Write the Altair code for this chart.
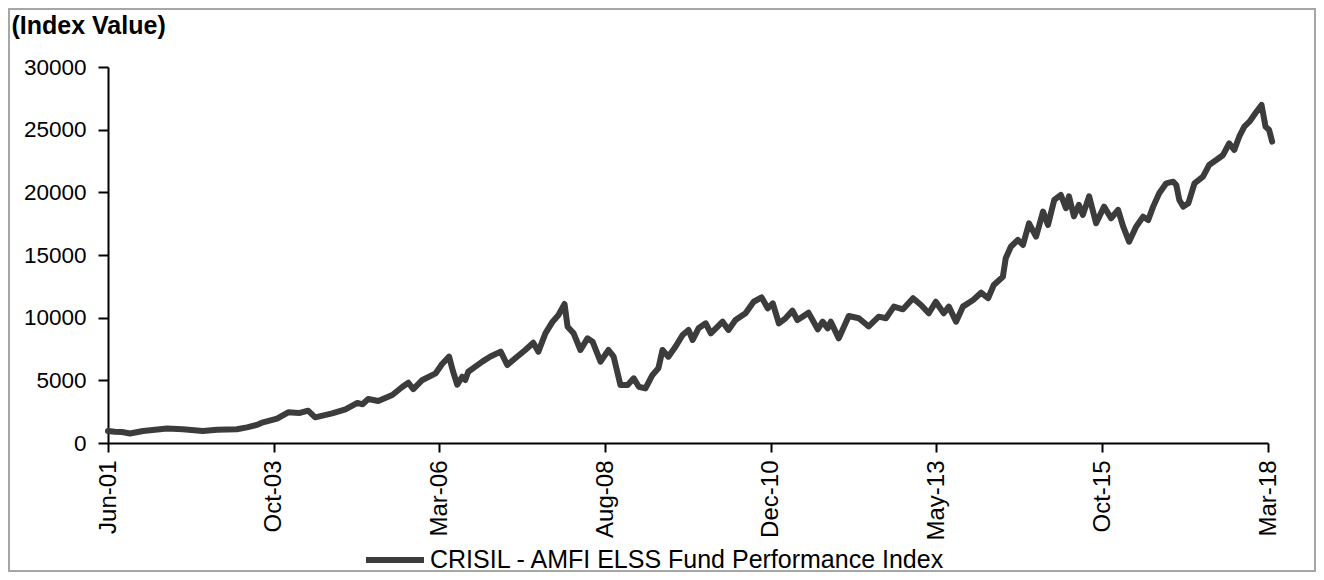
import altair as alt
import pandas as pd

# ---- data ----
dates = [
    "2001-06-01", "2001-07-07", "2001-08-14", "2001-09-25", "2001-12-03", "2002-03-02",
    "2002-04-08", "2002-07-01", "2002-10-15", "2002-12-28", "2003-04-12", "2003-06-04",
    "2003-07-26", "2003-08-28", "2003-11-10", "2004-01-08", "2004-02-14", "2004-03-10",
    "2004-04-22", "2004-05-29", "2004-08-27", "2004-11-05", "2005-01-07", "2005-02-03",
    "2005-03-05", "2005-04-27", "2005-07-10", "2005-09-02", "2005-10-03", "2005-10-29",
    "2005-12-16", "2006-02-24", "2006-03-30", "2006-05-06", "2006-05-27", "2006-06-18",
    "2006-07-14", "2006-07-30", "2006-08-15", "2006-10-28", "2006-12-10", "2007-02-02",
    "2007-03-09", "2007-04-20", "2007-06-12", "2007-07-24", "2007-08-20", "2007-09-26",
    "2007-11-03", "2007-12-04", "2008-01-05", "2008-01-21", "2008-02-22", "2008-03-29",
    "2008-05-05", "2008-06-01", "2008-07-13", "2008-08-24", "2008-09-20", "2008-10-26",
    "2008-12-03", "2009-01-04", "2009-01-31", "2009-03-07", "2009-04-13", "2009-05-14",
    "2009-06-05", "2009-07-06", "2009-08-13", "2009-09-19", "2009-10-20", "2009-11-11",
    "2009-12-12", "2010-01-19", "2010-02-15", "2010-04-18", "2010-05-19", "2010-06-25",
    "2010-08-17", "2010-09-29", "2010-11-10", "2010-12-12", "2011-01-08", "2011-02-09",
    "2011-03-16", "2011-04-22", "2011-05-18", "2011-06-14", "2011-07-15", "2011-09-02",
    "2011-09-28", "2011-10-25", "2011-11-10", "2011-12-22", "2012-02-13", "2012-04-06",
    "2012-05-28", "2012-07-20", "2012-08-27", "2012-10-08", "2012-11-25", "2013-01-17",
    "2013-02-28", "2013-04-10", "2013-05-17", "2013-06-28", "2013-07-25", "2013-09-01",
    "2013-10-07", "2013-11-30", "2014-01-11", "2014-02-17", "2014-03-19", "2014-05-06",
    "2014-05-21", "2014-06-17", "2014-07-24", "2014-08-20", "2014-09-21", "2014-10-28",
    "2014-12-04", "2014-12-30", "2015-02-01", "2015-03-08", "2015-04-04", "2015-04-20",
    "2015-05-16", "2015-06-11", "2015-07-02", "2015-08-04", "2015-09-10", "2015-10-22",
    "2015-11-28", "2016-01-04", "2016-01-31", "2016-03-02", "2016-04-08", "2016-05-15",
    "2016-06-11", "2016-07-07", "2016-08-08", "2016-09-14", "2016-10-21", "2016-11-06",
    "2016-11-22", "2016-12-13", "2017-01-09", "2017-02-10", "2017-03-27", "2017-04-28",
    "2017-06-05", "2017-07-11", "2017-08-12", "2017-09-08", "2017-10-04", "2017-10-31",
    "2017-11-27", "2018-01-03", "2018-01-30", "2018-02-20", "2018-03-11", "2018-03-27",
]
values = [
    950, 900, 880, 760, 960, 1090,
    1150, 1100, 950, 1050, 1100, 1250,
    1440, 1650, 1950, 2450, 2420, 2400,
    2580, 2050, 2370, 2690, 3200, 3090,
    3510, 3350, 3830, 4490, 4810, 4300,
    5030, 5560, 6300, 6890, 5690, 4650,
    5290, 5030, 5690, 6490, 6900, 7290,
    6220, 6760, 7420, 8000, 7290, 8750,
    9680, 10210, 11090, 9280, 8750, 7420,
    8350, 8080, 6490, 7420, 6890, 4630,
    4630, 5160, 4490, 4360, 5430, 5960,
    7420, 6890, 7700, 8620, 9020, 8220,
    9150, 9550, 8750, 9680, 9020, 9810,
    10350, 11270, 11620, 10750, 11140, 9550,
    9950, 10560, 9810, 10080, 10400, 9070,
    9680, 9150, 9680, 8350, 10130, 9950,
    9300, 10080, 9950, 10880, 10670, 11550,
    11010, 10350, 11270, 10350, 10880, 9680,
    10880, 11410, 11990, 11550, 12610, 13270,
    14740, 15660, 16200, 15800, 17530, 16460,
    18460, 17390, 19390, 19790, 18730, 19680,
    18080, 19000, 18200, 19680, 17530, 18860,
    17930, 18600, 17260, 16060, 17260, 18060,
    17790, 18860, 19920, 20720, 20850, 20590,
    19390, 18860, 19130, 20720, 21250, 22180,
    22580, 22980, 23910, 23380, 24440, 25240,
    25640, 26430, 26970, 25240, 24970, 24040,
]
series_name = "CRISIL - AMFI ELSS Fund Performance Index"
x_tick_dates = ["2001-06-01", "2003-10-23", "2006-03-16", "2008-08-07",
                "2010-12-29", "2013-05-20", "2015-10-13", "2018-03-05"]
y_ticks = [0, 5000, 10000, 15000, 20000, 25000, 30000]
y_title = "(Index Value)"

FONT = "Liberation Sans"


def dt(s):
    y, m, d = (int(p) for p in s.split("-"))
    return alt.DateTime(year=y, month=m, date=d, utc=True)


df = pd.DataFrame({"date": dates, "value": values, "series": series_name})

line = alt.Chart(df).mark_line(strokeWidth=6, strokeJoin="round", strokeCap="round").encode(
    x=alt.X(
        "date:T",
        title=None,
        scale=alt.Scale(type="utc", domain=[dt(x_tick_dates[0]), dt(x_tick_dates[-1])]),
        axis=alt.Axis(
            values=[dt(s) for s in x_tick_dates],
            labelExpr="utcFormat(datum.value, '%b-%y')",
            labelAngle=270,
            labelFontSize=24,
            tickSize=9,
            labelPadding=8,
            labelFlush=False,
            labelOverlap=False,
        ),
    ),
    y=alt.Y(
        "value:Q",
        scale=alt.Scale(domain=[0, 30000], nice=False),
        axis=alt.Axis(
            values=y_ticks,
            format="d",
            labelFontSize=22.5,
            tickSize=10,
            labelPadding=12,
            title=y_title,
            titleAngle=0,
            titleX=-97,
            titleY=-34,
            titleAlign="left",
            titleBaseline="alphabetic",
            titleFont=FONT,
            titleFontSize=25,
            titleFontWeight="bold",
            titleColor="black",
        ),
    ),
    color=alt.Color(
        "series:N",
        scale=alt.Scale(range=["#3c3c3c"]),
        legend=alt.Legend(
            title=None,
            orient="none",
            legendX=255,
            legendY=461,
            symbolType="stroke",
            symbolSize=3364,
            symbolStrokeWidth=6,
            labelFont=FONT,
            labelFontSize=25,
            labelColor="black",
            labelOffset=3,
            labelLimit=2000,
            padding=0,
        ),
    ),
)

frame = alt.Chart(alt.Data(values=[{"k": 1}])).mark_rect(
    filled=False, stroke="#a6a6a6", strokeWidth=2
).encode(
    x=alt.value(-99), x2=alt.value(1207), y=alt.value(-58), y2=alt.value(504)
)

chart = alt.layer(frame, line).properties(
    width=1160,
    height=376,
    padding={"left": 100, "top": 59, "right": 48, "bottom": 129},
    autosize=alt.AutoSizeParams(type="none"),
).configure_axis(
    grid=False,
    domainColor="black",
    domainWidth=2,
    tickColor="black",
    tickWidth=2,
    labelFont=FONT,
    labelColor="black",
).configure_view(stroke="transparent")

chart.save("out.html", embed_options={"renderer": "svg", "actions": False})
